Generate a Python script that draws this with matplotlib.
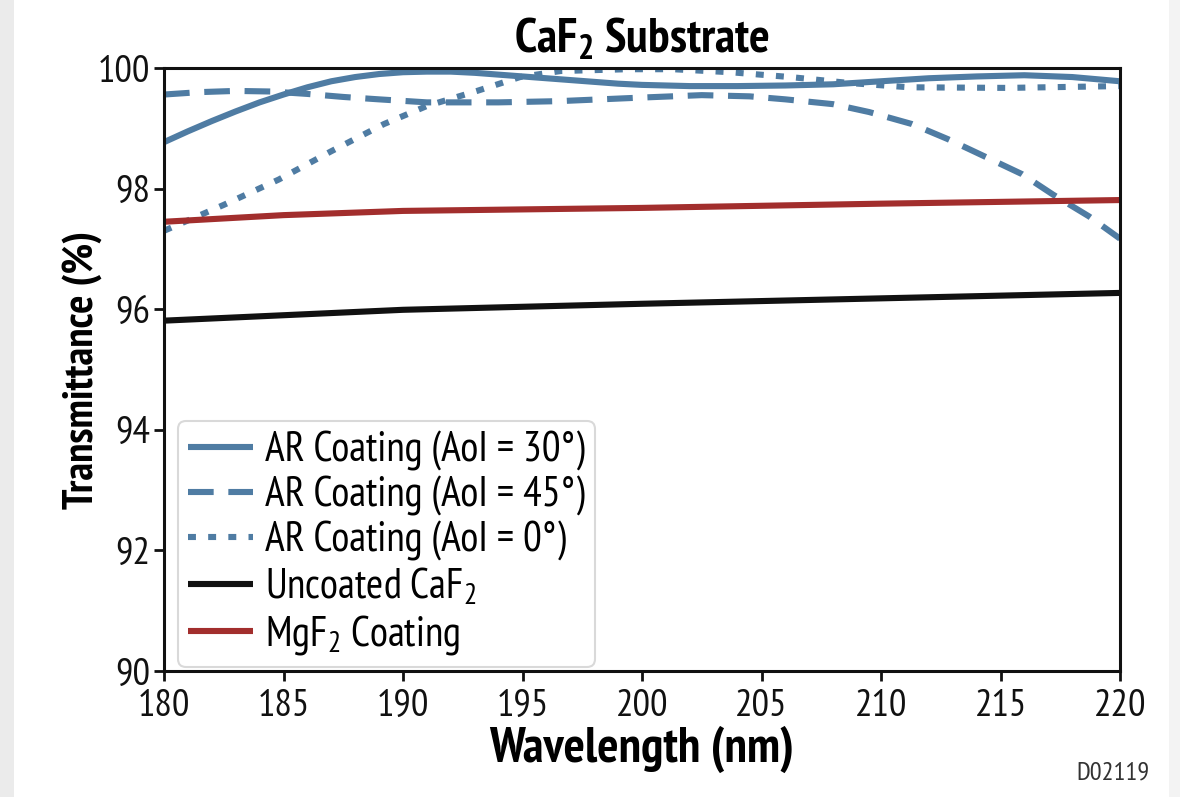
import matplotlib
matplotlib.use("Agg")
import matplotlib.pyplot as plt
from matplotlib.patches import Rectangle

plt.rcParams['font.family'] = ['PT Sans Narrow', 'DejaVu Sans']
plt.rcParams['mathtext.default'] = 'regular'

# ---- data ----
wl_ar30 = [180, 181, 182, 183, 184, 185, 186, 187, 188, 189, 190, 191, 192, 193, 194, 195,
           196, 197, 198, 199, 200, 202, 204, 206, 208, 210, 212, 214, 216, 218, 220]
t_ar30 = [98.77, 98.95, 99.12, 99.28, 99.43, 99.56, 99.68, 99.78, 99.85, 99.9, 99.93, 99.94,
          99.94, 99.92, 99.89, 99.86, 99.83, 99.8, 99.77, 99.74, 99.72, 99.7, 99.7, 99.71,
          99.73, 99.78, 99.83, 99.86, 99.88, 99.85, 99.78]

wl_ar45 = [180, 181.5, 183, 184.5, 186, 187.5, 189, 191, 194, 196.5, 200, 202.5, 204.5, 206,
           208, 209.5, 211.3, 212.8, 214.3, 215.9, 217.2, 218.7, 220]
t_ar45 = [99.56, 99.6, 99.62, 99.61, 99.57, 99.52, 99.48, 99.43, 99.43, 99.45, 99.51, 99.55,
          99.53, 99.48, 99.4, 99.27, 99.07, 98.82, 98.54, 98.24, 97.9, 97.54, 97.17]

wl_ar0 = [180, 182.5, 184.8, 187, 189.2, 191, 193.1, 194.9, 196.6, 199.4, 201.3, 203.7, 206.2,
          208.7, 211.2, 215.3, 220]
t_ar0 = [97.3, 97.73, 98.15, 98.62, 99.07, 99.37, 99.62, 99.85, 99.95, 99.98, 99.98, 99.93,
         99.85, 99.75, 99.68, 99.67, 99.7]

wl_unc = [180, 190, 200, 210, 220]
t_unc = [95.81, 95.99, 96.09, 96.18, 96.27]

wl_mgf = [180, 185, 190, 200, 210, 220]
t_mgf = [97.45, 97.56, 97.63, 97.68, 97.75, 97.81]

labels = ["AR Coating (AoI = 30°)", "AR Coating (AoI = 45°)", "AR Coating (AoI = 0°)",
          "Uncoated CaF$_2$", "MgF$_2$ Coating"]
xticks = [180, 185, 190, 195, 200, 205, 210, 215, 220]
yticks = [90, 92, 94, 96, 98, 100]

blue = "#4f7ca3"
red = "#a22e2d"
black = "#111111"
lw = 4.4

fig = plt.figure(figsize=(11.8, 7.97), dpi=100)
fig.patch.set_facecolor("white")
fig.patches.append(Rectangle((0, 0), 14 / 1180, 1, transform=fig.transFigure,
                             facecolor="#ebebeb", edgecolor="none", zorder=0))
fig.patches.append(Rectangle((1169 / 1180, 0), 11 / 1180, 1, transform=fig.transFigure,
                             facecolor="#f3f3f3", edgecolor="none", zorder=0))

ax = fig.add_axes([164 / 1180, 1 - 671 / 797, (1120 - 164) / 1180, (671 - 68) / 797])

ax.plot(wl_ar30, t_ar30, color=blue, lw=lw, solid_capstyle='butt', solid_joinstyle='round',
        label=labels[0])
l45, = ax.plot(wl_ar45, t_ar45, color=blue, lw=lw, label=labels[1])
l45.set_dashes([4.2, 2.4])
l0, = ax.plot(wl_ar0, t_ar0, color=blue, lw=lw, label=labels[2])
l0.set_dashes([1.3, 2.0])
ax.plot(wl_unc, t_unc, color=black, lw=lw, solid_capstyle='butt', label=labels[3])
ax.plot(wl_mgf, t_mgf, color=red, lw=lw, solid_capstyle='butt', label=labels[4])

ax.set_xlim(180, 220)
ax.set_ylim(90, 100)
ax.set_xticks(xticks)
ax.set_yticks(yticks)
ax.tick_params(axis='both', direction='out', length=7, width=2, labelsize=28,
               colors='#111111')
ax.tick_params(axis='x', pad=6)
ax.tick_params(axis='y', pad=3)
for s in ax.spines.values():
    s.set_linewidth(2.2)
    s.set_color('#111111')

ax.set_title("CaF$_2$ Substrate", fontsize=35, fontweight='bold', pad=11)
ax.set_xlabel("Wavelength (nm)", fontsize=36, fontweight='bold', labelpad=1)
ax.set_ylabel("Transmittance (%)", fontsize=31, fontweight='bold', labelpad=-3)

leg = ax.legend(loc='lower left', bbox_to_anchor=(0.0146, 0.0066), borderaxespad=0,
                fontsize=30, handlelength=1.55, handletextpad=0.3, labelspacing=0.12,
                frameon=True, fancybox=True, borderpad=0.25)
leg.get_frame().set_edgecolor("#d0d0d0")
leg.get_frame().set_linewidth(1.5)

fig.text(1150 / 1180, 1 - 773 / 797, "D02119", fontsize=19, color="#333333",
         ha='right', va='center')

fig.savefig("out.png", dpi=100)
